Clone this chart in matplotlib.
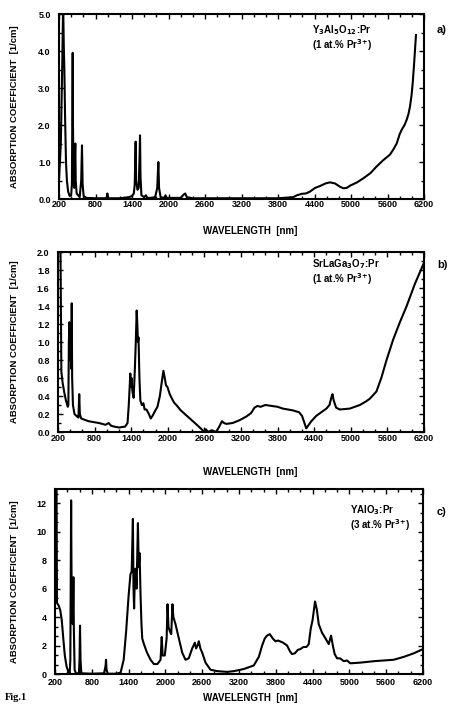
import numpy as np
import matplotlib
matplotlib.use('Agg')
import matplotlib.pyplot as plt
from matplotlib.ticker import MultipleLocator

# --- global font settings (bold sans like the scanned figure) ---
plt.rcParams['font.family'] = ['Liberation Sans', 'DejaVu Sans']
plt.rcParams['font.weight'] = 'bold'
plt.rcParams['mathtext.default'] = 'bf'

# === data ===
# a) Y3Al5O12:Pr (1 at.%)
wl_a = [200, 230, 255, 268, 278, 288, 300, 315, 330, 350, 375, 400, 412, 420, 425, 430, 440,
        450, 460, 468, 475, 490, 540, 565, 578, 588, 605, 650, 800, 980, 995, 1010, 1200,
        1350, 1400, 1430, 1445, 1455, 1460, 1468, 1490, 1510, 1525, 1532, 1540, 1555, 1600,
        1630, 1650, 1700, 1780, 1815, 1833, 1845, 1870, 1930, 1950, 1970, 2200, 2250, 2275,
        2300, 2400, 3000, 3800, 4050, 4110, 4190, 4260, 4326, 4410, 4490, 4580, 4655, 4737,
        4820, 4874, 4930, 4984, 5100, 5203, 5320, 5422, 5530, 5641, 5700, 5751, 5800, 5833,
        5880, 5915, 5945, 5970, 5995, 6014, 6035, 6052, 6068]
abs_a = [0.5, 1.5, 3.8, 5.3, 4.2, 3.5, 2.2, 1.0, 0.5, 0.2, 0.08, 0.1, 0.4, 2.5, 3.95, 2.0, 0.4,
         0.3, 1.0, 1.5, 0.5, 0.15, 0.05, 0.5, 1.45, 0.4, 0.08, 0.03, 0.02, 0.02, 0.15, 0.02, 0.02,
         0.05, 0.08, 0.15, 0.4, 1.2, 1.55, 0.5, 0.25, 0.3, 1.2, 1.72, 0.6, 0.1, 0.05,
         0.1, 0.03, 0.03, 0.05, 0.3, 1.0, 0.3, 0.05, 0.03, 0.1, 0.03, 0.03, 0.12, 0.15,
         0.05, 0.02, 0.02, 0.02, 0.05, 0.1, 0.14, 0.15, 0.2, 0.3, 0.35, 0.42, 0.45, 0.42,
         0.33, 0.29, 0.3, 0.36, 0.45, 0.56, 0.7, 0.88, 1.05, 1.2, 1.35, 1.5, 1.75, 1.87,
         2.0, 2.14, 2.3, 2.5, 2.8, 3.13, 3.6, 4.03, 4.43]

# b) SrLaGa3O7:Pr (1 at.%)
wl_b = [200, 240, 255, 275, 300, 330, 360, 370, 378, 386, 392, 400, 410, 420, 425, 432, 445,
        470, 515, 535, 548, 558, 580, 700, 870, 980, 1030, 1070, 1120, 1200, 1300, 1340, 1360,
        1375, 1385, 1395, 1405, 1420, 1440, 1460, 1475, 1490, 1500, 1510, 1520, 1535, 1550,
        1575, 1600, 1620, 1650, 1690, 1720, 1750, 1780, 1830, 1870, 1900, 1928, 1950, 1970,
        1994, 2032, 2076, 2110, 2140, 2213, 2295, 2378, 2460, 2540, 2597, 2625, 2660, 2720,
        2790, 2844, 2888, 2920, 2960, 3063, 3173, 3283, 3365, 3420, 3470, 3520, 3600, 3700,
        3800, 3886, 3970, 4051, 4150, 4200, 4240, 4270, 4300, 4353, 4435, 4517, 4600, 4650,
        4680, 4700, 4720, 4760, 4819, 4983, 5148, 5250, 5312, 5420, 5500, 5586, 5696, 5805,
        5916, 6053, 6200]
abs_b = [2.1, 2.1, 0.67, 0.55, 0.45, 0.35, 0.28, 0.3, 1.0, 1.22, 0.8, 0.9, 1.2, 0.7, 1.43, 0.6, 0.3,
         0.2, 0.17, 0.16, 0.42, 0.2, 0.15, 0.12, 0.1, 0.08, 0.1, 0.07, 0.06, 0.05, 0.06, 0.1, 0.3,
         0.5, 0.65, 0.5, 0.6, 0.45, 0.38, 0.7, 1.0, 1.35, 1.2, 1.0, 1.05, 0.6, 0.35,
         0.3, 0.32, 0.25, 0.25, 0.2, 0.15, 0.18, 0.22, 0.28, 0.4, 0.55, 0.68, 0.6, 0.52,
         0.5, 0.42, 0.36, 0.32, 0.3, 0.24, 0.19, 0.14, 0.09, 0.04, 0.0, 0.03, 0.0, 0.02,
         0.0, 0.06, 0.12, 0.1, 0.09, 0.1, 0.13, 0.17, 0.21, 0.27, 0.29, 0.28, 0.3, 0.29,
         0.28, 0.26, 0.25, 0.24, 0.22, 0.18, 0.1, 0.04, 0.07, 0.12, 0.18, 0.22, 0.26, 0.3,
         0.38, 0.42, 0.35, 0.27, 0.25, 0.26, 0.3, 0.34, 0.37, 0.45, 0.6, 0.8, 1.03, 1.22,
         1.4, 1.65, 1.88]

# c) YAlO3:Pr (3 at.%)
wl_c = [200, 225, 232, 260, 285, 310, 335, 360, 390, 420, 440, 450, 458, 463, 468, 475, 490,
        500, 508, 520, 540, 590, 600, 608, 616, 630, 800, 1000, 1025, 1032, 1040, 1060, 1200,
        1270, 1320, 1360, 1400, 1430, 1450, 1470, 1480, 1490, 1500, 1514, 1530, 1552, 1565,
        1579, 1595, 1610, 1622, 1650, 1700, 1758, 1812, 1870, 1921, 1940, 1955, 1990, 2020,
        2035, 2050, 2073, 2095, 2115, 2130, 2165, 2219, 2274, 2328, 2380, 2437, 2480, 2500,
        2525, 2545, 2570, 2600, 2654, 2735, 2844, 3007, 3115, 3278, 3441, 3523, 3577, 3620,
        3658, 3702, 3750, 3794, 3840, 3920, 3984, 4030, 4065, 4110, 4160, 4201, 4250, 4300,
        4337, 4370, 4400, 4440, 4470, 4500, 4554, 4610, 4663, 4701, 4730, 4760, 4799, 4850,
        4907, 4960, 5016, 5179, 5400, 5558, 5721, 5884, 6047, 6200]
abs_c = [13.5, 13.5, 5.0, 4.8, 4.5, 3.8, 2.5, 1.3, 0.5, 0.15, 0.05, 1.0, 8.0, 12.2, 8.0, 4.0, 3.5,
         6.8, 3.0, 0.3, 0.05, 0.05, 1.0, 3.4, 1.0, 0.05, 0.02, 0.05, 0.6, 1.0, 0.3, 0.02, 0.02,
         0.1, 1.0, 3.0, 5.5, 7.0, 7.2, 10.9, 6.0, 4.6, 6.5, 7.4, 6.0, 10.6, 7.5,
         8.5, 5.5, 3.5, 2.5, 2.1, 1.5, 1.0, 0.7, 0.7, 1.0, 2.6, 1.3, 1.3, 2.5,
         4.9, 3.3, 3.0, 2.8, 4.9, 4.0, 3.5, 2.5, 1.5, 1.0, 1.1, 1.8, 2.2, 1.8,
         2.0, 2.3, 1.8, 1.5, 0.8, 0.3, 0.2, 0.15, 0.2, 0.35, 0.6, 1.2, 2.0, 2.5,
         2.7, 2.8, 2.5, 2.3, 2.35, 2.2, 2.0, 1.6, 1.4, 1.45, 1.7, 1.75, 1.9, 1.9,
         2.1, 3.2, 3.8, 5.1, 4.5, 3.5, 2.9, 2.5, 2.1, 2.7, 2.0, 1.4, 1.1, 1.1,
         0.9, 0.95, 0.75, 0.8, 0.9, 0.95, 1.0, 1.2, 1.45, 1.75]

x_ticks = [200, 800, 1400, 2000, 2600, 3200, 3800, 4400, 5000, 5600, 6200]

labels = [r'Y$_3$Al$_5$O$_{12}$:Pr' + '\n' + r'(1 at.% Pr$^{3{+}}$)',
          r'SrLaGa$_3$O$_7$:Pr' + '\n' + r'(1 at.% Pr$^{3{+}}$)',
          r'YAlO$_3$:Pr' + '\n' + r'(3 at.% Pr$^{3{+}}$)']
tags = ['a)', 'b)', 'c)']

# axes rect in pixels: left, top, width, height
px = [(59, 14, 365, 185), (58, 252, 366, 180), (55, 489, 368, 185)]
ymax = [5.0, 2.0, 13.0]
ystep = [1.0, 0.2, 2.0]
yminor = [0.5, 0.1, 2 / 3]
yfmt = ['%.1f', '%.1f', '%d']
xpad = [0.5, 1.2, 3.0]
lab_pos = [(312, 38), (312, 272), (350, 518)]   # text left x, centre y (px)
tag_y = [30, 265, 512]
xlab_y = [231, 472, 698]

W, H = 450, 710
fig = plt.figure(figsize=(4.5, 7.1), dpi=100)

series = [(wl_a, abs_a), (wl_b, abs_b), (wl_c, abs_c)]
for i, (wl, ab) in enumerate(series):
    l, t, w, h = px[i]
    ax = fig.add_axes([l / W, 1 - (t + h) / H, w / W, h / H])
    ax.plot(wl, ab, color='black', lw=1.5)
    ax.set_xlim(200, 6200)
    ax.set_ylim(0, ymax[i])
    ax.set_xticks(x_ticks)
    ax.xaxis.set_minor_locator(MultipleLocator(200))
    yt = np.arange(0, ymax[i] + 1e-6, ystep[i])
    if i == 2:
        yt = yt[yt <= 12]
    ax.set_yticks(yt)
    ax.set_yticklabels([yfmt[i] % v for v in yt])
    ax.yaxis.set_minor_locator(MultipleLocator(yminor[i]))
    ax.tick_params(which='both', direction='in', top=True, right=True, width=1.0,
                   labelsize=6.5)
    ax.tick_params(axis='x', pad=xpad[i])
    ax.tick_params(axis='y', pad=6)
    ax.tick_params(which='major', length=3.5)
    ax.tick_params(which='minor', length=2)
    for s in ax.spines.values():
        s.set_linewidth(1.5)
    for lbl in ax.get_xticklabels() + ax.get_yticklabels():
        lbl.set_fontweight('bold')

    # sample name + tag
    fig.text(lab_pos[i][0] / W, 1 - lab_pos[i][1] / H, labels[i], ha='left', va='center',
             fontsize=7, fontweight='bold', linespacing=1.0)
    fig.text(437 / W, 1 - tag_y[i] / H, tags[i], ha='left', va='center',
             fontsize=8, fontweight='bold')

    # axis titles
    fig.text(15 / W, 1 - (t + h / 2) / H, 'ABSORPTION COEFFICIENT  [1/cm]', rotation=90,
             ha='center', va='center', fontsize=6.8, fontweight='bold')
    fig.text(250 / W, 1 - xlab_y[i] / H, 'WAVELENGTH  [nm]', ha='center', va='center',
             fontsize=7, fontweight='bold')

fig.text(5 / W, 1 - 697 / H, 'Fig.1', ha='left', va='center', fontsize=7.5,
         fontweight='bold', family='Liberation Serif')

fig.savefig('out.png', dpi=100)
